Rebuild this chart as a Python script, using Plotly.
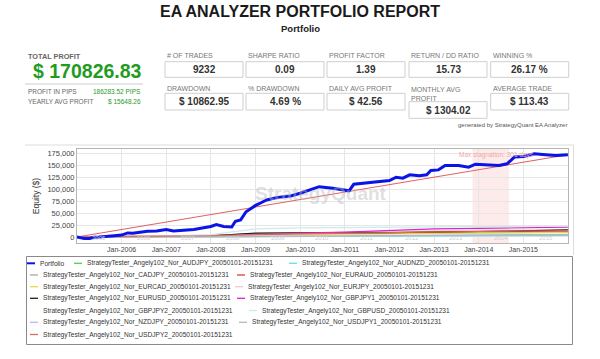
import plotly.graph_objects as go

# ---------------- DATA ----------------
portfolio_dates = [
    "2005-01-01", "2005-02-01", "2005-03-01", "2005-04-15", "2005-05-20", "2005-07-01",
    "2005-09-01", "2005-11-01", "2006-01-01", "2006-02-20", "2006-04-01", "2006-06-15",
    "2006-08-01", "2006-10-15", "2007-01-01", "2007-03-01", "2007-05-15", "2007-08-15",
    "2007-11-15", "2008-01-01", "2008-02-15", "2008-04-15", "2008-06-20", "2008-07-20",
    "2008-09-01", "2008-10-15", "2008-11-25", "2009-01-01", "2009-02-15", "2009-04-01",
    "2009-07-01", "2009-10-15", "2010-01-01", "2010-03-15", "2010-06-05", "2010-09-25",
    "2011-01-01", "2011-02-05", "2011-03-15", "2011-06-20", "2011-10-10", "2012-01-01",
    "2012-02-25", "2012-04-20", "2012-06-15", "2012-09-01", "2012-11-01", "2012-12-05",
    "2013-02-05", "2013-04-01", "2013-07-20", "2013-10-10", "2013-12-05", "2014-03-20",
    "2014-06-15", "2014-08-20", "2014-10-20", "2015-01-01", "2015-04-01", "2015-07-01",
    "2015-09-25", "2015-12-31",
]
portfolio_equity = [
    0, -1500, -3000, -3200, -500, 0,
    2000, 2500, 4000, 8500, 8000, 10600,
    12000, 12700, 15600, 12700, 14000, 15600,
    19800, 22000, 26000, 22000, 21000, 33000,
    36000, 53000, 60000, 66400, 72000, 77700,
    83300, 86200, 92000, 98900, 105800, 102300,
    97400, 97000, 110800, 113000, 116500, 118600,
    125700, 123600, 130700, 128600, 130700, 139700,
    141100, 150300, 150300, 146700, 153100, 151700,
    150300, 153800, 168000, 169400, 175000, 172900,
    171400, 172900,
]
trend_dates = ["2005-01-01", "2015-12-31"]
trend_values = [0, 172900]

strategy_dates = ["2005-01-01", "2006-01-01", "2007-01-01", "2008-01-01", "2009-01-01",
                  "2010-01-01", "2011-01-01", "2012-01-01", "2013-01-01", "2014-01-01",
                  "2015-01-01", "2015-12-31"]
audjpy = [0, 500, 1000, 1500, 3500, 5000, 6000, 7000, 8000, 9000, 10000, 10500]
audnzd = [0, -500, -800, 0, 500, 1000, 1500, 2000, 2500, 3000, 3200, 3500]
cadjpy = [0, 300, 800, 1500, 3000, 4000, 5000, 5500, 6500, 7000, 7500, 8000]
euraud = [0, 500, 1500, 3000, 7000, 8500, 9000, 10000, 11000, 11500, 12000, 12000]
eurcad = [0, 500, 1500, 2500, 4000, 5000, 6000, 7000, 7500, 8500, 9000, 9500]
eurjpy = [0, 1000, 2000, 3000, 5000, 8000, 10000, 12000, 13000, 14000, 15000, 15500]
eurusd = [0, 300, 1000, 2500, 8000, 8500, 8000, 9000, 10000, 11000, 13000, 15000]
gbpjpy1 = [0, 200, 600, 1500, 4000, 8000, 10000, 13000, 17000, 18000, 19500, 20500]
gbpjpy2 = [0, 200, 500, 800, 1500, 2500, 3500, 4500, 5500, 6000, 6500, 7000]
gbpusd = [0, 500, 1500, 5000, 17000, 19000, 20000, 21000, 21500, 22000, 22500, 22600]
nzdjpy = [0, 200, 500, 1000, 1500, 2000, 2500, 3000, 3500, 4000, 4500, 5000]
usdjpy1 = [0, -200, 0, 300, 800, 1500, 2000, 2500, 3000, 4000, 5000, 5500]
usdjpy2 = [0, 400, 1200, 2500, 5500, 7000, 8000, 9000, 10500, 11500, 12500, 13000]

strategy_names = [
    "StrategyTester_Angely102_Nor_AUDJPY_20050101-20151231",
    "StrategyTester_Angely102_Nor_AUDNZD_20050101-20151231",
    "StrategyTester_Angely102_Nor_CADJPY_20050101-20151231",
    "StrategyTester_Angely102_Nor_EURAUD_20050101-20151231",
    "StrategyTester_Angely102_Nor_EURCAD_20050101-20151231",
    "StrategyTester_Angely102_Nor_EURJPY_20050101-20151231",
    "StrategyTester_Angely102_Nor_EURUSD_20050101-20151231",
    "StrategyTester_Angely102_Nor_GBPJPY1_20050101-20151231",
    "StrategyTester_Angely102_Nor_GBPJPY2_20050101-20151231",
    "StrategyTester_Angely102_Nor_GBPUSD_20050101-20151231",
    "StrategyTester_Angely102_Nor_NZDJPY_20050101-20151231",
    "StrategyTester_Angely102_Nor_USDJPY1_20050101-20151231",
    "StrategyTester_Angely102_Nor_USDJPY2_20050101-20151231",
]
strategy_series = [audjpy, audnzd, cadjpy, euraud, eurcad, eurjpy, eurusd,
                   gbpjpy1, gbpjpy2, gbpusd, nzdjpy, usdjpy1, usdjpy2]

x_tick_dates = ["2006-01-01", "2007-01-01", "2008-01-01", "2009-01-01", "2010-01-01",
                "2011-01-01", "2012-01-01", "2013-01-01", "2014-01-01", "2015-01-01"]
x_tick_labels = ["Jan-2006", "Jan-2007", "Jan-2008", "Jan-2009", "Jan-2010",
                 "Jan-2011", "Jan-2012", "Jan-2013", "Jan-2014", "Jan-2015"]

stagnation_start = "2013-11-10"
stagnation_end = "2014-09-05"
stagnation_label = "Max stagnation: 301 days"
inner_year_labels = ["2005", "2006", "2007", "2008", "2009", "2010",
                     "2011", "2012", "2013", "2014", "2015"]

total_profit = "$ 170826.83"
profit_pips = "186283.52 PIPS"
yearly_avg = "$ 15648.26"
kpi_labels_row1 = ["# OF TRADES", "SHARPE RATIO", "PROFIT FACTOR", "RETURN / DD RATIO", "WINNING %"]
kpi_values_row1 = ["9232", "0.09", "1.39", "15.73", "26.17 %"]
kpi_labels_row2 = ["DRAWDOWN", "% DRAWDOWN", "DAILY AVG PROFIT", "MONTHLY AVG<br>PROFIT", "AVERAGE TRADE"]
kpi_values_row2 = ["$ 10862.95", "4.69 %", "$ 42.56", "$ 1304.02", "$ 113.43"]

# ---------------- STYLE ----------------
strategy_colors = ["#4fd24f", "#5fe0e0", "#a8a8a8", "#e03a3a", "#f2d24a", "#f3c9c9",
                   "#1e1e1e", "#e020c8", "#ffffff", "#cdeaea", "#b9b9ee", "#b8b8b8", "#d8705c"]
FONT = "Arial, Liberation Sans, sans-serif"

W, H = 600, 359
# plot area in page pixels
L, R, T, B = 77, 568, 149, 243
PW, PH = R - L, B - T


def xp(px):
    return (px - L) / PW


def yp(py):
    return (B - py) / PH


fig = go.Figure()

for name, vals, col in zip(strategy_names, strategy_series, strategy_colors):
    fig.add_trace(go.Scatter(x=strategy_dates, y=vals, mode="lines", name=name,
                             line=dict(color=col, width=1.2), showlegend=False))

fig.add_trace(go.Scatter(x=trend_dates, y=trend_values, mode="lines", name="trend",
                         line=dict(color="#e06060", width=1.1), showlegend=False))
fig.add_trace(go.Scatter(x=portfolio_dates, y=portfolio_equity, mode="lines", name="Portfolio",
                         line=dict(color="#0a14e6", width=3), showlegend=False))

shapes = []
annotations = []


def note(px, py, text, size, color, xanchor="left", yanchor="middle", **kw):
    annotations.append(dict(xref="paper", yref="paper", x=xp(px), y=yp(py), xanchor=xanchor,
                            yanchor=yanchor, text=text, showarrow=False,
                            font=dict(family=FONT, size=size, color=color), **kw))


# stagnation zone
shapes.append(dict(type="rect", xref="x", yref="paper", x0=stagnation_start, x1=stagnation_end,
                   y0=0, y1=1, fillcolor="rgba(250,205,205,0.4)", line=dict(width=0), layer="below"))
note(457, 155, stagnation_label, 6.5, "#f0a8a8")
# inner faint year labels
for yl in inner_year_labels:
    annotations.append(dict(xref="x", yref="paper", x=f"{yl}-07-01", y=yp(238), text=yl,
                            showarrow=False, xanchor="center", yanchor="middle",
                            font=dict(family=FONT, size=6, color="#cfcfcf")))
# watermark
note(321, 193, "<b>StrategyQuant</b>", 19, "rgba(185,185,185,0.45)", xanchor="center")

# title
note(300, 11, "<b>EA ANALYZER PORTFOLIO REPORT</b>", 16, "#1a1a1a", xanchor="center")
note(300, 28.5, "<b>Portfolio</b>", 9.5, "#222", xanchor="center")

# total profit block
note(26, 56.5, "<b>TOTAL PROFIT</b>", 7.3, "#666")
note(87, 71, f"<b>{total_profit}</b>", 19.5, "#1f9c1f", xanchor="center")
shapes.append(dict(type="line", xref="paper", yref="paper", x0=xp(25), x1=xp(143), y0=yp(84), y1=yp(84),
                   line=dict(color="#cccccc", width=1)))
note(26, 91, "PROFIT IN PIPS", 6.5, "#666")
note(143, 91, profit_pips, 6.5, "#2a9a2a", xanchor="right")
note(26, 101.5, "YEARLY AVG PROFIT", 6.5, "#666")
note(143, 101.5, yearly_avg, 6.5, "#2a9a2a", xanchor="right")

# KPI boxes
box_left = [165, 246, 327, 409, 490.7]
box_w = 78
for i in range(5):
    x0 = box_left[i]
    note(x0, 55.7, kpi_labels_row1[i], 7, "#777")
    shapes.append(dict(type="rect", xref="paper", yref="paper", x0=xp(x0), x1=xp(x0 + box_w),
                       y0=yp(77.3), y1=yp(61.7), line=dict(color="#cfcfcf", width=1), fillcolor="white"))
    note(x0 + box_w / 2, 69.3, f"<b>{kpi_values_row1[i]}</b>", 10, "#333", xanchor="center")
    if i == 3:
        by0, by1, vy = 101.7, 118.3, 110.2
        note(x0, 84.2, kpi_labels_row2[i], 7, "#777", yanchor="top", align="left")
    else:
        by0, by1, vy = 93.3, 110, 101.5
        note(x0, 88.7, kpi_labels_row2[i], 7, "#777")
    shapes.append(dict(type="rect", xref="paper", yref="paper", x0=xp(x0), x1=xp(x0 + box_w),
                       y0=yp(by1), y1=yp(by0), line=dict(color="#cfcfcf", width=1), fillcolor="white"))
    note(x0 + box_w / 2, vy, f"<b>{kpi_values_row2[i]}</b>", 10, "#333", xanchor="center")

note(568.5, 125.3, "generated by StrategyQuant EA Analyzer", 6, "#555", xanchor="right")

# chart container lines
shapes.append(dict(type="line", xref="paper", yref="paper", x0=xp(25), x1=xp(573.5), y0=yp(145), y1=yp(145),
                   line=dict(color="#dddddd", width=1)))
shapes.append(dict(type="line", xref="paper", yref="paper", x0=xp(573.5), x1=xp(573.5), y0=yp(145), y1=yp(255),
                   line=dict(color="#dddddd", width=1)))

# legend (drawn from the series names and colours)
legend_names = ["Portfolio"] + strategy_names
legend_colors = ["#0a14e6"] + strategy_colors
legend_rows = [[0, 1, 2], [3, 4], [5, 6], [7, 8], [9, 10], [11, 12], [13]]
legend_text_x = [[38, 85, 300], [41, 248], [41, 246], [41, 248], [41, 260], [41, 250], [41]]
legend_row_y = [263.3, 275, 286.7, 298.3, 310.5, 322.3, 334.5]
shapes.append(dict(type="rect", xref="paper", yref="paper", x0=xp(26.5), x1=xp(572.5), y0=yp(344.5), y1=yp(256.5),
                   line=dict(color="#8a8a8a", width=1), fillcolor="white", layer="below"))
for r, row in enumerate(legend_rows):
    for c, idx in enumerate(row):
        tx = legend_text_x[r][c]
        ty = legend_row_y[r]
        shapes.append(dict(type="line", xref="paper", yref="paper", x0=xp(tx - 11), x1=xp(tx - 3),
                           y0=yp(ty), y1=yp(ty),
                           line=dict(color=legend_colors[idx], width=2 if idx == 0 else 1.3)))
        note(tx, ty, legend_names[idx], 6.6, "#333")

fig.update_layout(
    width=W, height=H,
    margin=dict(l=L, r=W - R, t=T, b=H - B, pad=0, autoexpand=False),
    paper_bgcolor="white", plot_bgcolor="white",
    showlegend=False,
    font=dict(family=FONT, color="#444"),
    shapes=shapes, annotations=annotations,
    xaxis=dict(type="date", range=["2005-01-01", "2016-01-01"], tickmode="array",
               tickvals=x_tick_dates, ticktext=x_tick_labels, automargin=False,
               showgrid=True, gridcolor="#e6e6e6", gridwidth=1,
               showline=True, linecolor="#b5b5b5", mirror=True, ticks="",
               tickfont=dict(size=7, color="#444"), zeroline=False),
    yaxis=dict(range=[-12700, 185000], tick0=0, dtick=25000, tickformat=",d", automargin=False,
               showgrid=True, gridcolor="#e6e6e6", gridwidth=1,
               showline=True, linecolor="#b5b5b5", mirror=True, ticks="",
               tickfont=dict(size=7.5, color="#444"), zeroline=False,
               title=dict(text="Equity ($)", font=dict(size=8.5, color="#333"), standoff=6)),
)

# remove the page's default 8px body margin so the 600x359 figure fills the window
fig.write_html("out.html", config={"displayModeBar": False},
               post_script="document.body.style.margin='0px';document.body.style.overflow='hidden';")
